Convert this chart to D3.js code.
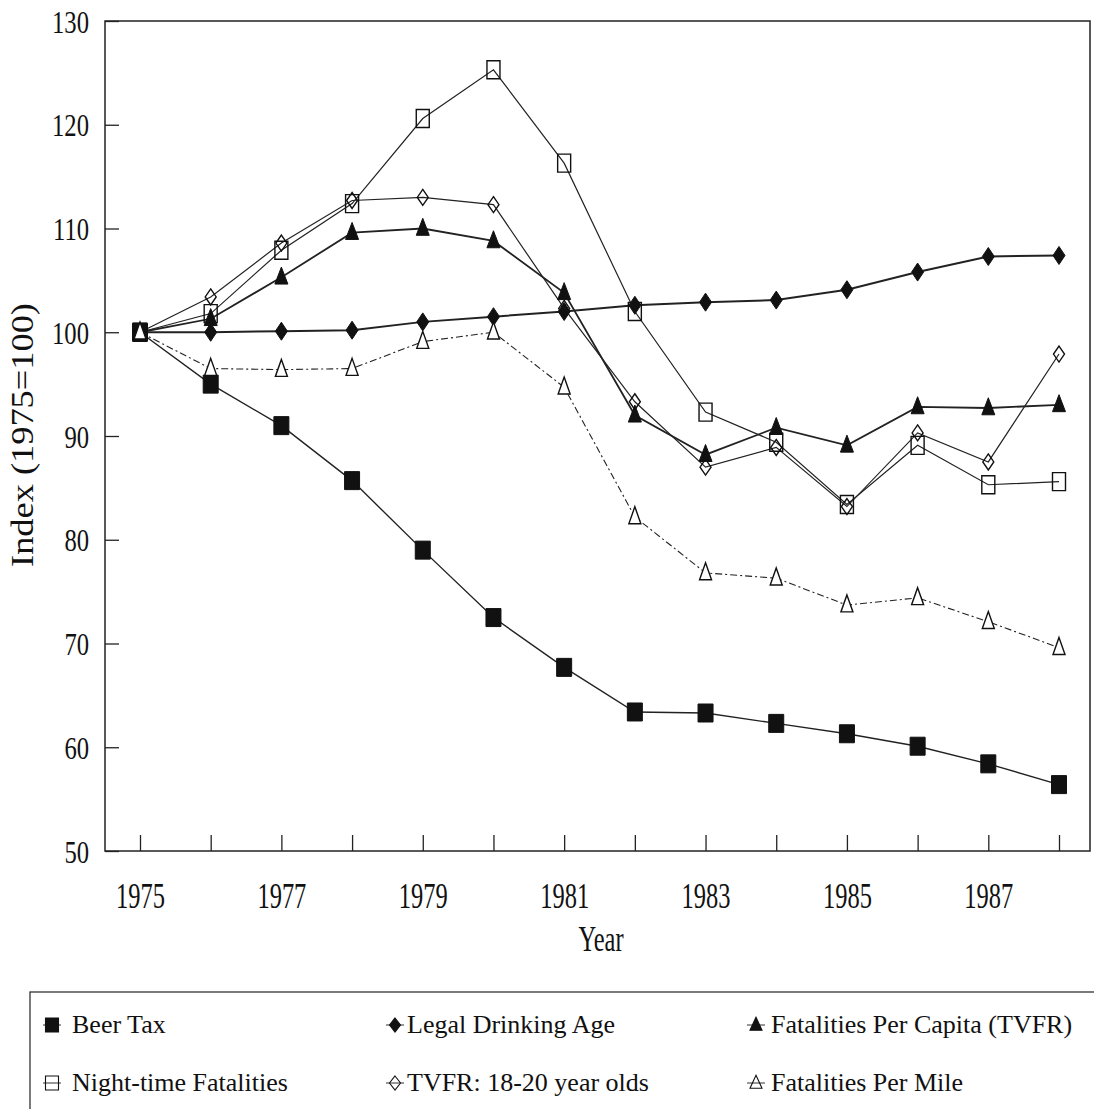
<!DOCTYPE html>
<html>
<head>
<meta charset="utf-8">
<script src="https://cdn.jsdelivr.net/npm/d3@7"></script>
<style>
  body { margin: 0; background: #fff; }
  text { font-family: "Liberation Serif", "Times New Roman", serif; fill: #111; }
</style>
</head>
<body>
<svg width="1094" height="1109"></svg>
<script>
var years = [1975, 1976, 1977, 1978, 1979, 1980, 1981, 1982, 1983, 1984, 1985, 1986, 1987, 1988];
var beerTax        = [100, 95.0, 91.0, 85.7, 79.0, 72.5, 67.7, 63.4, 63.3, 62.3, 61.3, 60.1, 58.4, 56.4];
var drinkingAge    = [100, 100.0, 100.1, 100.2, 101.0, 101.5, 102.0, 102.6, 102.9, 103.1, 104.1, 105.8, 107.3, 107.4];
var perCapita      = [100, 101.3, 105.3, 109.6, 110.0, 108.8, 103.8, 92.0, 88.2, 90.8, 89.1, 92.8, 92.7, 93.0];
var nightTime      = [100, 101.8, 107.9, 112.4, 120.6, 125.3, 116.3, 102.0, 92.3, 89.4, 83.4, 89.1, 85.3, 85.6];
var tvfr1820       = [100, 103.4, 108.6, 112.7, 113.0, 112.3, 102.3, 93.3, 87.0, 88.9, 83.2, 90.3, 87.5, 97.9];
var perMile        = [100, 96.5, 96.4, 96.5, 99.1, 100.0, 94.7, 82.2, 76.8, 76.3, 73.7, 74.4, 72.1, 69.6];
var yTicks = [50, 60, 70, 80, 90, 100, 110, 120, 130];

var seriesNames = ["Beer Tax", "Legal Drinking Age", "Fatalities Per Capita (TVFR)",
                   "Night-time Fatalities", "TVFR: 18-20 year olds", "Fatalities Per Mile"];

var serif = "'Liberation Serif', 'Times New Roman', serif";
var svg = d3.select("svg");

var x = d3.scaleLinear().domain([1975, 1988]).range([140, 1059]);
var y = d3.scaleLinear().domain([50, 130]).range([851, 21]);

// marker shapes (the scan is stretched vertically, so w != h)
function square(w, h) { return "M" + (-w/2) + "," + (-h/2) + "h" + w + "v" + h + "h" + (-w) + "Z"; }
function diamond(w, h) { return "M0," + (-h/2) + "L" + (w/2) + ",0L0," + (h/2) + "L" + (-w/2) + ",0Z"; }
function triangle(w, h) { return "M0," + (-h*0.6) + "L" + (w/2) + "," + (h*0.4) + "L" + (-w/2) + "," + (h*0.4) + "Z"; }

var series = [
  { name: seriesNames[0], values: beerTax,     shape: square(15, 18),   fill: "#111", width: 1.4, dash: null },
  { name: seriesNames[1], values: drinkingAge, shape: diamond(12, 18),  fill: "#111", width: 2,   dash: null },
  { name: seriesNames[2], values: perCapita,   shape: triangle(13, 17), fill: "#111", width: 1.8, dash: null },
  { name: seriesNames[3], values: nightTime,   shape: square(13, 18),   fill: "none", width: 1.2, dash: null },
  { name: seriesNames[4], values: tvfr1820,    shape: diamond(11, 16),  fill: "none", width: 1.2, dash: null },
  { name: seriesNames[5], values: perMile,     shape: triangle(12, 17), fill: "#fff", width: 1.1, dash: "7,3,2,3" }
];

// frame
svg.append("rect")
    .attr("x", 105).attr("y", 21)
    .attr("width", 1090 - 105).attr("height", 851 - 21)
    .attr("fill", "none").attr("stroke", "#222").attr("stroke-width", 1.5);

// y axis, ticks inward
var yAxis = svg.append("g")
    .attr("transform", "translate(105,0)")
    .call(d3.axisLeft(y).tickValues(yTicks).tickSize(-14).tickSizeOuter(0));
yAxis.select(".domain").remove();
yAxis.selectAll("line").attr("stroke", "#222").attr("stroke-width", 1.3);
yAxis.selectAll("text")
    .attr("x", -16 / 0.77).attr("dy", null).attr("y", 11)
    .attr("transform", "scale(0.77,1)")
    .style("font-size", "32px")
    .style("font-family", serif)
    .attr("fill", "#111");

// x axis, ticks inward
var xAxis = svg.append("g")
    .attr("transform", "translate(0,851)")
    .call(d3.axisBottom(x).tickValues(years).tickSize(-16).tickSizeOuter(0)
      .tickFormat(function(d) { return d % 2 ? d : ""; }));
xAxis.select(".domain").remove();
xAxis.selectAll("line").attr("stroke", "#222").attr("stroke-width", 1.3);
xAxis.selectAll("text")
    .attr("y", 57).attr("dy", null)
    .attr("transform", "scale(0.68,1)")
    .style("font-size", "36px")
    .style("font-family", serif)
    .attr("fill", "#111");

// axis titles
svg.append("text")
    .attr("transform", "translate(601,951) scale(0.68,1)")
    .attr("text-anchor", "middle")
    .style("font-size", "36px")
    .style("font-family", serif)
    .text("Year");

svg.append("text")
    .attr("transform", "translate(33,435) rotate(-90) scale(1.04,0.9)")
    .attr("text-anchor", "middle")
    .style("font-size", "35px")
    .style("font-family", serif)
    .text("Index (1975=100)");

// lines
var line = d3.line()
    .x(function(d, i) { return x(years[i]); })
    .y(function(d) { return y(d); });

svg.append("g").selectAll("path")
    .data(series)
    .enter().append("path")
    .attr("d", function(s) { return line(s.values); })
    .attr("fill", "none")
    .attr("stroke", "#222")
    .attr("stroke-width", function(s) { return s.width; })
    .attr("stroke-dasharray", function(s) { return s.dash; });

// markers
series.forEach(function(s) {
  svg.append("g").selectAll("path")
      .data(s.values)
      .enter().append("path")
      .attr("transform", function(d, i) { return "translate(" + x(years[i]) + "," + y(d) + ")"; })
      .attr("d", s.shape)
      .attr("fill", s.fill)
      .attr("stroke", "#111")
      .attr("stroke-width", s.fill == "#111" ? 1 : 1.4);
});

// legend
svg.append("rect")
    .attr("x", 30).attr("y", 992)
    .attr("width", 1100).attr("height", 200)
    .attr("fill", "none").attr("stroke", "#333").attr("stroke-width", 1.3);

var legendPos = [
  { mx: 52,  tx: 72,  row: 0 },
  { mx: 395, tx: 407, row: 0 },
  { mx: 756, tx: 771, row: 0 },
  { mx: 52,  tx: 72,  row: 1 },
  { mx: 395, tx: 407, row: 1 },
  { mx: 756, tx: 771, row: 1 }
];
var legendShapes = [square(13, 14), diamond(11, 14), triangle(12, 13), square(13, 14), diamond(11, 14), triangle(12, 13)];

var item = svg.append("g").selectAll("g")
    .data(series)
    .enter().append("g")
    .attr("transform", function(d, i) { return "translate(0," + (legendPos[i].row * 58) + ")"; });

item.append("line")
    .attr("x1", function(d, i) { return legendPos[i].mx - 9; })
    .attr("x2", function(d, i) { return legendPos[i].mx + 9; })
    .attr("y1", 1025).attr("y2", 1025)
    .attr("stroke", "#333").attr("stroke-width", 1);

item.append("path")
    .attr("transform", function(d, i) { return "translate(" + legendPos[i].mx + ",1025)"; })
    .attr("d", function(d, i) { return legendShapes[i]; })
    .attr("fill", function(d) { return d.fill == "#111" ? "#111" : "none"; })
    .attr("stroke", "#111")
    .attr("stroke-width", 1.1);

item.append("text")
    .attr("x", function(d, i) { return legendPos[i].tx; })
    .attr("y", 1033)
    .style("font-size", "26px")
    .style("font-family", serif)
    .text(function(d) { return d.name; });
</script>
</body>
</html>
